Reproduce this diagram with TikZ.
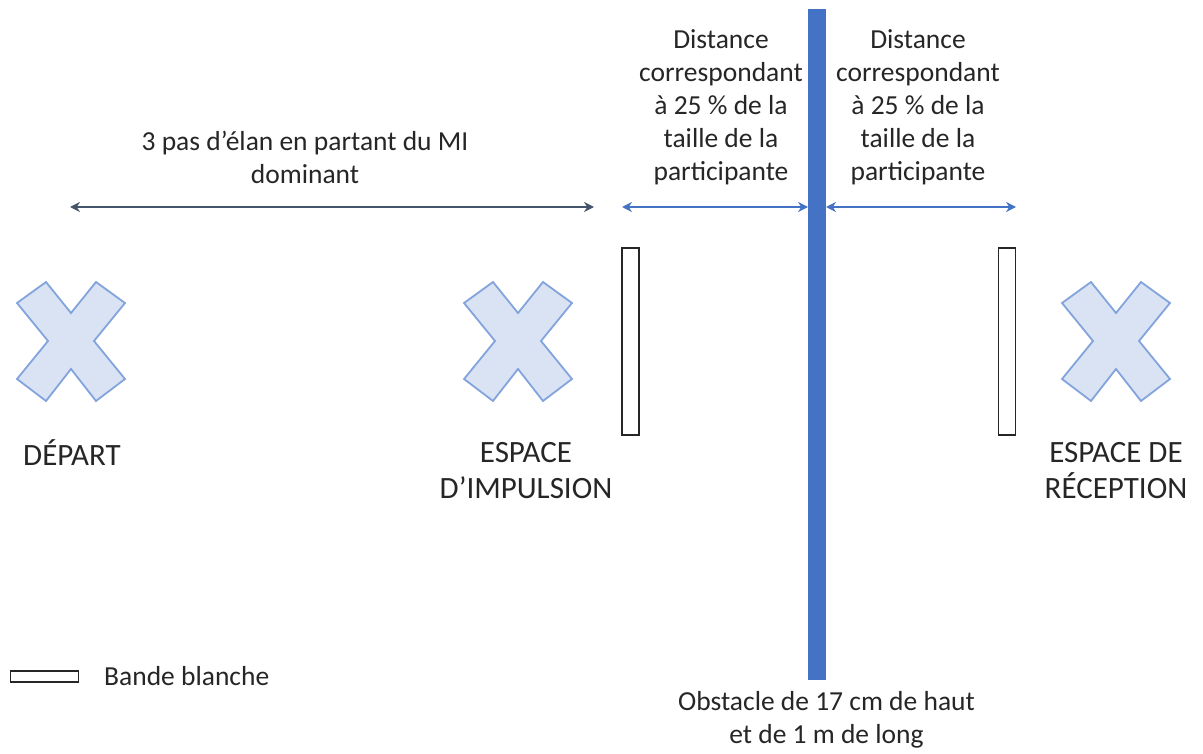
\documentclass[tikz,border=0pt]{standalone}
\usepackage{fontspec}
\setmainfont{Carlito}
\usetikzlibrary{arrows.meta}
\definecolor{xfill}{RGB}{218,227,243}
\definecolor{xline}{RGB}{130,163,220}
\definecolor{obst}{RGB}{68,114,196}
\definecolor{darkarr}{RGB}{68,84,106}
\tikzset{
  lbl/.style={font=\fontsize{27.5}{33}\selectfont, text=black!85, align=center, inner sep=0pt},
  caplbl/.style={font=\fontsize{31}{36}\selectfont, text=black!85, align=center, inner sep=0pt},
  xmark/.style={fill=xfill, draw=xline, line width=1.8pt, line join=miter},
  band/.style={draw=black!85, fill=white, line width=1.8pt},
  darrow/.style={{Stealth[length=10pt,width=10pt]}-{Stealth[length=10pt,width=10pt]}, line width=1.8pt, draw=darkarr},
  barrow/.style={{Stealth[length=10pt,width=10pt]}-{Stealth[length=10pt,width=10pt]}, line width=1.5pt, draw=obst},
}
\newcommand{\xcross}[2]{%
  \draw[xmark] (#1-25,#2-59) -- (#1,#2-28) -- (#1+25,#2-59) -- (#1+54,#2-38) -- (#1+23,#2) -- (#1+54,#2+38) -- (#1+25,#2+60) -- (#1,#2+28) -- (#1-25,#2+60) -- (#1-54,#2+38) -- (#1-23,#2) -- (#1-54,#2-38) -- cycle;}
\begin{document}
\begin{tikzpicture}[x=1pt,y=-1pt]
\useasboundingbox (0,0) rectangle (1203,754);
% X marks
\xcross{71}{341}
\xcross{518}{341}
\xcross{1116}{341}
% bands
\node[band, minimum width=17pt, minimum height=187pt, inner sep=0pt] (bandL) at (630.5,341.5) {};
\node[band, minimum width=17pt, minimum height=187pt, inner sep=0pt] (bandR) at (1007,341.5) {};
% obstacle
\node[fill=obst, minimum width=18pt, minimum height=671pt, inner sep=0pt] (obstacle) at (817,344.5) {};
% arrow coordinates
\coordinate (a1) at (70,207);
\coordinate (a2) at (594,207);
\coordinate (b1) at (622,207);
\coordinate (b2) at (808,207);
\coordinate (c1) at (826,207);
\coordinate (c2) at (1016,207);
\draw[darrow] (a1) -- (a2);
\draw[barrow] (b1) -- (b2);
\draw[barrow] (c1) -- (c2);
% labels
\node[lbl] (elan) at (305,157) {3 pas d’élan en partant du MI\\dominant};
\node[lbl] (distL) at (721,107) {Distance\\correspondant\\à 25 \% de la\\taille de la\\participante};
\node[lbl] (distR) at (918,107) {Distance\\correspondant\\à 25 \% de la\\taille de la\\participante};
\node[caplbl, anchor=west] (depart) at (23,453) {DÉPART};
\node[caplbl] (impulsion) at (526,471) {ESPACE\\D’IMPULSION};
\node[caplbl] (reception) at (1116,471) {ESPACE DE\\RÉCEPTION};
\node[lbl] (obstlbl) at (826.5,720) {Obstacle de 17 cm de haut\\et de 1 m de long};
% legend
\node[band, minimum width=68pt, minimum height=11pt, inner sep=0pt, line width=1.6pt] (legband) at (44.5,676.5) {};
\node[lbl, anchor=west] (legtext) at (104,676) {Bande blanche};
\end{tikzpicture}
\end{document}
